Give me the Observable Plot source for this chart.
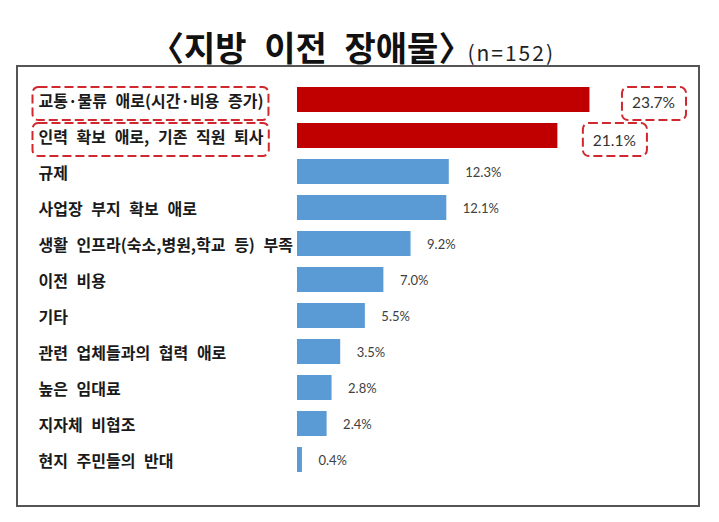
<!DOCTYPE html>
<html>
<head>
<meta charset="utf-8">
<script src="https://cdn.jsdelivr.net/npm/d3@7"></script>
<script src="https://cdn.jsdelivr.net/npm/@observablehq/plot@0.6"></script>
<style>
  html, body { margin: 0; padding: 0; background: #fff; }
  body { width: 719px; height: 522px; position: relative; overflow: hidden; font-family: "Noto Sans CJK KR", sans-serif; }
  #title { position: absolute; top: 30px; left: 150px; line-height: 1; white-space: nowrap; color: #111; }
  #title .main { font-size: 34px; font-weight: 700; word-spacing: 10px; }
  #title .n { font-size: 21px; font-weight: 400; letter-spacing: 2px; color: #222; margin-left: -5px; }
  #chart { position: absolute; left: 16px; top: 65px; border: 2px solid #555; width: 680px; height: 438px; }
  #chart svg { display: block; }
  #chart svg g[aria-label="y-axis tick label"] text { word-spacing: 5px; }
</style>
</head>
<body>
<div id="title"><span class="main">〈지방 이전 장애물〉</span><span class="n">(n=152)</span></div>
<div id="chart"></div>
<script>
// Categories (top to bottom) and shares (%)
const categories = [
  "교통·물류 애로(시간·비용 증가)",
  "인력 확보 애로, 기존 직원 퇴사",
  "규제",
  "사업장 부지 확보 애로",
  "생활 인프라(숙소,병원,학교 등) 부족",
  "이전 비용",
  "기타",
  "관련 업체들과의 협력 애로",
  "높은 임대료",
  "지자체 비협조",
  "현지 주민들의 반대"
];
const values = [23.7, 21.1, 12.3, 12.1, 9.2, 7.0, 5.5, 3.5, 2.8, 2.4, 0.4];
const highlighted = ["교통·물류 애로(시간·비용 증가)", "인력 확보 애로, 기존 직원 퇴사"];

const data = categories.map((c, i) => ({
  category: c,
  value: values[i],
  group: highlighted.includes(c) ? "hi" : "lo",
  label: values[i].toFixed(1) + "%"
}));

const plot = Plot.plot({
  width: 680,
  height: 438,
  marginLeft: 279,
  marginRight: 92.5,
  marginTop: 13.6,
  marginBottom: 27.5,
  style: { background: "transparent", overflow: "visible", color: "#1a1a1a" },
  x: { domain: [0, 25], axis: null },
  y: { domain: categories, paddingInner: 0.307, paddingOuter: 0.15, label: null },
  color: { domain: ["hi", "lo"], range: ["#c00000", "#5b9bd5"] },
  marks: [
    Plot.barX(data, { x: "value", y: "category", fill: "group" }),
    Plot.axisY({
      tickSize: 0, tickPadding: 0, textAnchor: "start", dx: -259, dy: 2,
      fontSize: 16, fontWeight: "bold", fontFamily: "Noto Sans CJK KR", label: null
    }),
    Plot.text(data.filter(d => d.group === "lo"), {
      x: "value", y: "category", text: "label", textAnchor: "start", dx: 16, dy: 1,
      fontSize: 13, fill: "#404040", fontFamily: "Lato"
    }),
    Plot.text(data.filter(d => d.category === highlighted[0]), {
      x: "value", y: "category", text: "label", textAnchor: "start", dx: 42, dy: 3,
      fontSize: 15.5, fill: "#333", fontFamily: "Lato"
    }),
    Plot.text(data.filter(d => d.category === highlighted[1]), {
      x: "value", y: "category", text: "label", textAnchor: "start", dx: 35, dy: 5,
      fontSize: 15.5, fill: "#333", fontFamily: "Lato"
    })
  ]
});

document.getElementById("chart").append(plot);

// Dashed highlight boxes around the highlighted labels and their values
function drawBoxes() {
  d3.select(plot).selectAll("g.hl-boxes").remove();
  const svgRect = plot.getBoundingClientRect();
  const yScale = plot.scale("y");
  const boxLayer = d3.select(plot).append("g").attr("class", "hl-boxes").attr("fill", "none")
    .attr("stroke", "#d0282e").attr("stroke-width", 2).attr("stroke-dasharray", "9 4");
  const highlightLabels = data.filter(d => d.group === "hi");
  d3.select(plot).selectAll("text").each(function () {
    const t = this.textContent;
    const rowL = highlightLabels.find(d => d.category === t);
    const rowV = highlightLabels.find(d => d.label === t);
    const row = rowL || rowV;
    if (!row) return;
    const r = this.getBoundingClientRect();
    const left = r.left - svgRect.left - (rowL ? 6 : 10);
    const right = r.right - svgRect.left + (rowL ? 5 : 11);
    const cy = yScale.apply(row.category) + yScale.bandwidth / 2 + 4;
    boxLayer.append("rect")
      .attr("x", left).attr("y", cy - 16.5)
      .attr("width", right - left).attr("height", 33)
      .attr("rx", 6).attr("ry", 6);
  });
}
drawBoxes();
if (document.fonts && document.fonts.ready) document.fonts.ready.then(drawBoxes);
</script>
</body>
</html>
